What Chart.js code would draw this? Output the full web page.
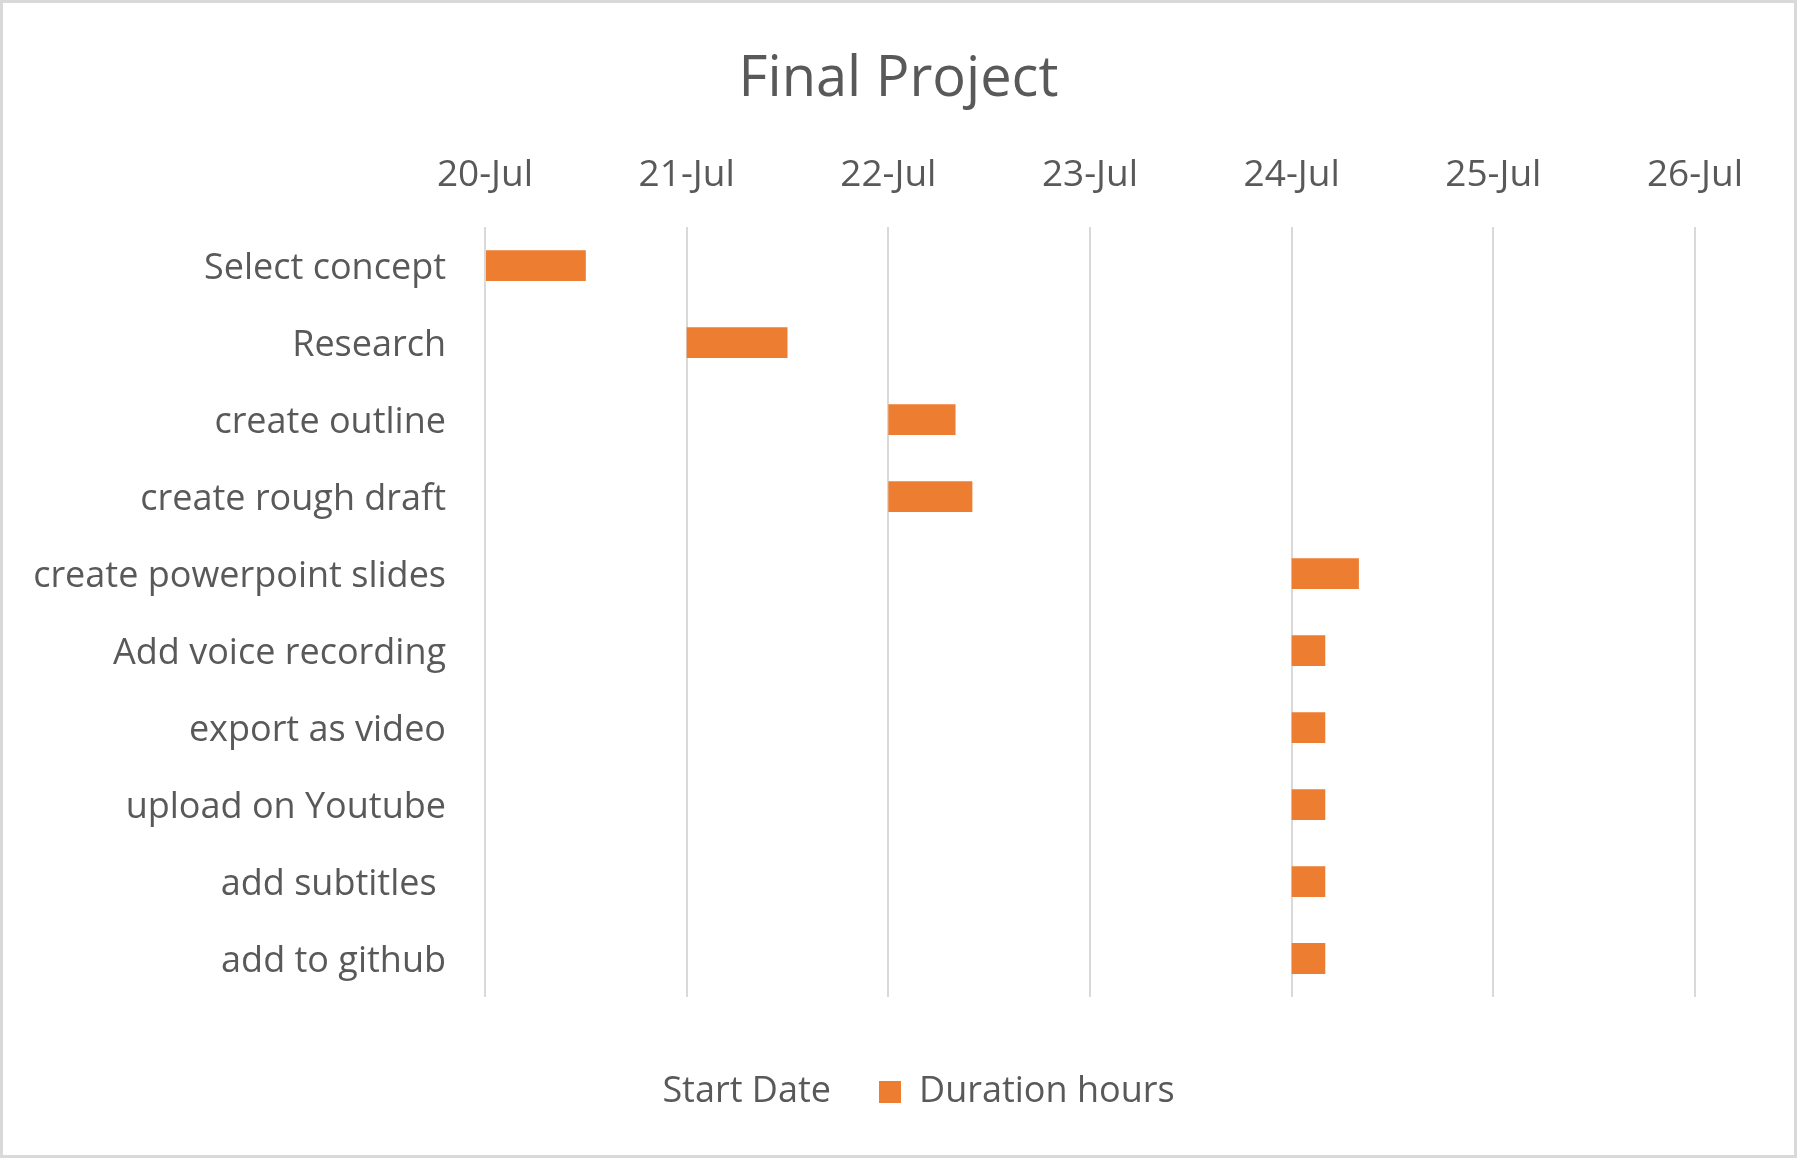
<!DOCTYPE html>
<html>
<head>
<meta charset="utf-8">
<script src="https://cdn.jsdelivr.net/npm/chart.js@4.4.1/dist/chart.umd.min.js"></script>
<style>
  html, body { margin: 0; padding: 0; background: #ffffff; }
  #wrap { width: 1797px; height: 1158px; position: relative; }
  canvas { display: block; }
</style>
</head>
<body>
<div id="wrap"><canvas id="c" width="1797" height="1158"></canvas></div>
<script>
// ---- data ----
const tasks = ['Select concept', 'Research', 'create outline', 'create rough draft', 'create powerpoint slides',
  'Add voice recording', 'export as video', 'upload on Youtube', 'add subtitles ', 'add to github'];
const startDates = ['2020-07-20', '2020-07-21', '2020-07-22', '2020-07-22', '2020-07-24',
  '2020-07-24', '2020-07-24', '2020-07-24', '2020-07-24', '2020-07-24'];
const durationHours = [12, 12, 8, 10, 8, 4, 4, 4, 4, 4];
const tickLabels = ['20-Jul', '21-Jul', '22-Jul', '23-Jul', '24-Jul', '25-Jul', '26-Jul'];
const axisStart = '2020-07-20';

// ---- derived ----
const DAY = 86400000;
const startOffsets = startDates.map(d => (Date.parse(d) - Date.parse(axisStart)) / DAY);
const durationDays = durationHours.map(h => h / 24);

const FONT = '"Open Sans", Lato, sans-serif';
const TEXT = '#595959';

const borderPlugin = {
  id: 'outerBorder',
  beforeDraw(chart) {
    const ctx = chart.ctx;
    ctx.save();
    ctx.fillStyle = '#ffffff';
    ctx.fillRect(0, 0, chart.width, chart.height);
    ctx.strokeStyle = '#d9d9d9';
    ctx.lineWidth = 3;
    ctx.strokeRect(1.5, 1.5, chart.width - 3, chart.height - 3);
    ctx.restore();
  }
};

new Chart(document.getElementById('c'), {
  type: 'bar',
  data: {
    labels: tasks,
    datasets: [
      { label: 'Start Date', data: startOffsets, backgroundColor: 'rgba(0,0,0,0)', borderWidth: 0 },
      { label: 'Duration hours', data: durationDays, backgroundColor: '#ED7D31', borderWidth: 0 }
    ]
  },
  options: {
    indexAxis: 'y',
    responsive: false,
    animation: false,
    devicePixelRatio: 1,
    barPercentage: 0.4,
    categoryPercentage: 1.0,
    layout: { padding: { left: 0, right: 0, top: 0, bottom: 38 } },
    plugins: {
      tooltip: { enabled: false },
      title: {
        display: true,
        text: 'Final Project',
        color: TEXT,
        font: { family: FONT, size: 56, weight: 'normal', lineHeight: 1.2 },
        padding: { top: 46, bottom: 4 }
      },
      legend: {
        display: true,
        position: 'bottom',
        title: { display: true, text: '', font: { size: 10, lineHeight: 1.2 }, padding: { top: 11, bottom: 6 } },
        labels: {
          color: TEXT,
          font: { family: FONT, size: 36 },
          boxWidth: 22,
          boxHeight: 22,
          padding: 48
        }
      }
    },
    scales: {
      x: {
        position: 'top',
        stacked: true,
        min: 0,
        max: 6,
        ticks: {
          stepSize: 1,
          color: TEXT,
          font: { family: FONT, size: 37, lineHeight: 1.2 },
          padding: 30,
          callback: (v) => tickLabels[v]
        },
        grid: { color: '#d9d9d9', lineWidth: 2, drawTicks: false },
        border: { display: false },
        afterFit: (s) => { s.height = 110; }
      },
      y: {
        stacked: true,
        ticks: {
          color: TEXT,
          font: { family: FONT, size: 36 },
          padding: 39,
          labelOffset: 3
        },
        grid: { display: false, drawTicks: false },
        border: { display: false },
        afterFit: (s) => { s.width = 485; }
      },
      yRight: {
        type: 'linear',
        position: 'right',
        display: true,
        ticks: { display: false },
        grid: { display: false, drawTicks: false },
        border: { display: false },
        afterFit: (s) => { s.width = 102; }
      }
    }
  },
  plugins: [borderPlugin]
});
</script>
</body>
</html>
